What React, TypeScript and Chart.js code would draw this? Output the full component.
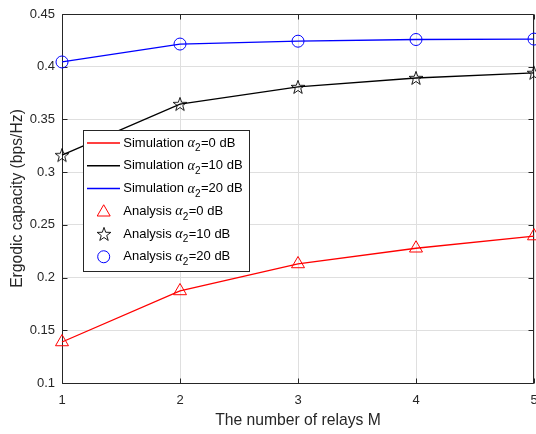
import React, { useEffect, useRef } from "react";
import { Chart, registerables } from "chart.js";
Chart.register(...registerables);

const relays = [1, 2, 3, 4, 5];
const sim0 = [0.1389, 0.1873, 0.2129, 0.2278, 0.2394];
const sim10 = [0.3162, 0.3646, 0.3808, 0.3893, 0.3942];
const sim20 = [0.4045, 0.4215, 0.4242, 0.4258, 0.4262];
const ana0 = [0.1389, 0.1873, 0.2129, 0.2278, 0.2394];
const ana10 = [0.3162, 0.3646, 0.3808, 0.3893, 0.3942];
const ana20 = [0.4045, 0.4215, 0.4242, 0.4258, 0.4262];
const xTicks = [1, 2, 3, 4, 5];
const yTicks = [0.1, 0.15, 0.2, 0.25, 0.3, 0.35, 0.4, 0.45];
const legendLabels = [
  { kind: "line", pre: "Simulation ", post: "=0 dB", color: "#ff0000" },
  { kind: "line", pre: "Simulation ", post: "=10 dB", color: "#000000" },
  { kind: "line", pre: "Simulation ", post: "=20 dB", color: "#0000ff" },
  { kind: "triangle", pre: "Analysis ", post: "=0 dB", color: "#ff0000" },
  { kind: "star", pre: "Analysis ", post: "=10 dB", color: "#000000" },
  { kind: "circle", pre: "Analysis ", post: "=20 dB", color: "#0000ff" },
];

const AXIS = "#262626";
const FONT = "'Liberation Sans', Arial, Helvetica, sans-serif";

function makeStar(): HTMLCanvasElement {
  const c = document.createElement("canvas");
  c.width = 18;
  c.height = 18;
  const ctx = c.getContext("2d")!;
  const R = 7.2;
  const r = R * 0.4;
  ctx.beginPath();
  for (let i = 0; i < 10; i++) {
    const rad = i % 2 === 0 ? R : r;
    const a = -Math.PI / 2 + (i * Math.PI) / 5;
    const x = 9 + rad * Math.cos(a);
    const y = 9.6 + rad * Math.sin(a);
    if (i === 0) ctx.moveTo(x, y);
    else ctx.lineTo(x, y);
  }
  ctx.closePath();
  ctx.strokeStyle = "#000000";
  ctx.lineWidth = 0.9;
  ctx.stroke();
  return c;
}

function drawTriangle(ctx: CanvasRenderingContext2D, x: number, y: number, radius: number) {
  let rad = 0;
  ctx.beginPath();
  for (let i = 0; i < 3; i++) {
    const px = x + Math.sin(rad) * radius;
    const py = y - Math.cos(rad) * radius;
    if (i === 0) ctx.moveTo(px, py);
    else ctx.lineTo(px, py);
    rad += (2 * Math.PI) / 3;
  }
  ctx.closePath();
  ctx.stroke();
}

export default function App() {
  const ref = useRef<HTMLCanvasElement>(null);
  useEffect(() => {
    const star = makeStar();
    const boxPlugin = {
      id: "box",
      beforeDatasetsDraw(chart: any) {
        const { ctx, chartArea } = chart;
        const xs = chart.scales.x;
        const ys = chart.scales.y;
        const l = Math.round(chartArea.left) + 0.5;
        const r = Math.round(chartArea.right) - 0.5;
        const t = Math.round(chartArea.top) + 0.5;
        const b = Math.round(chartArea.bottom) + 0.5;
        ctx.save();
        ctx.strokeStyle = AXIS;
        ctx.lineWidth = 1;
        ctx.beginPath();
        ctx.rect(l, t, r - l, b - t);
        const tl = 5;
        for (const v of xTicks) {
          const px = Math.round(xs.getPixelForValue(v)) + 0.5;
          ctx.moveTo(px, b);
          ctx.lineTo(px, b - tl);
          ctx.moveTo(px, t);
          ctx.lineTo(px, t + tl);
        }
        for (const v of yTicks) {
          const py = Math.round(ys.getPixelForValue(v)) + 0.5;
          ctx.moveTo(l, py);
          ctx.lineTo(l + tl, py);
          ctx.moveTo(r, py);
          ctx.lineTo(r - tl, py);
        }
        ctx.stroke();
        ctx.restore();
      },
    };
    const legendPlugin = {
      id: "matlabLegend",
      afterDraw(chart: any) {
        const { ctx } = chart;
        const bx = 83.5, by = 130.5, bw = 166, bh = 141;
        ctx.save();
        ctx.fillStyle = "#ffffff";
        ctx.fillRect(bx, by, bw, bh);
        ctx.strokeStyle = AXIS;
        ctx.lineWidth = 1;
        ctx.strokeRect(bx, by, bw, bh);
        legendLabels.forEach((item, i) => {
          const cy = 143 + i * 22.75;
          const mx = 103.7;
          ctx.strokeStyle = item.color;
          ctx.lineWidth = 1.3;
          if (item.kind === "line") {
            ctx.beginPath();
            ctx.moveTo(87, cy);
            ctx.lineTo(120, cy);
            ctx.stroke();
          } else if (item.kind === "triangle") {
            ctx.lineWidth = 1;
            drawTriangle(ctx, mx, cy + 1, 7.5);
          } else if (item.kind === "circle") {
            ctx.lineWidth = 1;
            ctx.beginPath();
            ctx.arc(mx, cy, 6, 0, Math.PI * 2);
            ctx.stroke();
          } else if (item.kind === "star") {
            ctx.drawImage(star, Math.round(mx - 9), Math.round(cy - 9));
          }
          let x = 123.3;
          ctx.fillStyle = "#000000";
          ctx.textBaseline = "middle";
          ctx.textAlign = "left";
          ctx.font = `13px ${FONT}`;
          ctx.fillText(item.pre, x, cy);
          x += ctx.measureText(item.pre).width;
          ctx.font = `italic 14px 'Liberation Serif', 'DejaVu Serif', serif`;
          ctx.fillText("α", x, cy + 0.5);
          x += ctx.measureText("α").width;
          ctx.font = `10px ${FONT}`;
          ctx.fillText("2", x, cy + 5.5);
          x += ctx.measureText("2").width + 0.5;
          ctx.font = `13px ${FONT}`;
          ctx.fillText(item.post, x, cy);
        });
        ctx.restore();
      },
    };

    const chart = new Chart(ref.current!, {
      type: "line",
      data: {
        datasets: [
          { label: "Analysis α2=0 dB", data: relays.map((x, i) => ({ x, y: ana0[i] })), showLine: false, pointStyle: "triangle", pointRadius: 7.5, pointBorderColor: "#ff0000", pointBackgroundColor: "rgba(0,0,0,0)", pointBorderWidth: 1, borderColor: "#ff0000", clip: false } as any,
          { label: "Analysis α2=10 dB", data: relays.map((x, i) => ({ x, y: ana10[i] })), showLine: false, pointStyle: star, pointRadius: 7, borderColor: "#000000", clip: false } as any,
          { label: "Analysis α2=20 dB", data: relays.map((x, i) => ({ x, y: ana20[i] })), showLine: false, pointStyle: "circle", pointRadius: 6, pointBorderColor: "#0000ff", pointBackgroundColor: "rgba(0,0,0,0)", pointBorderWidth: 1, borderColor: "#0000ff", clip: false } as any,
          { label: "Simulation α2=0 dB", data: relays.map((x, i) => ({ x, y: sim0[i] })), borderColor: "#ff0000", borderWidth: 1.3, pointRadius: 0, tension: 0, clip: false } as any,
          { label: "Simulation α2=10 dB", data: relays.map((x, i) => ({ x, y: sim10[i] })), borderColor: "#000000", borderWidth: 1.3, pointRadius: 0, tension: 0, clip: false } as any,
          { label: "Simulation α2=20 dB", data: relays.map((x, i) => ({ x, y: sim20[i] })), borderColor: "#0000ff", borderWidth: 1.3, pointRadius: 0, tension: 0, clip: false } as any,
        ],
      },
      options: {
        responsive: false,
        animation: false,
        events: [],
        layout: { autoPadding: false, padding: { top: 14, right: 2, left: 0, bottom: 0 } },
        plugins: { legend: { display: false }, tooltip: { enabled: false } },
        scales: {
          x: {
            type: "linear",
            min: 1,
            max: 5,
            afterFit: (s: any) => { s.height = 51; s.paddingLeft = 0; s.paddingRight = 0; },
            afterBuildTicks: (s: any) => { s.ticks = xTicks.map((v) => ({ value: v })); },
            ticks: { padding: 10, color: AXIS, font: { family: FONT, size: 13 }, callback: (v: any) => String(v) },
            grid: { color: "#dfdfdf", drawTicks: false },
            border: { display: false },
            title: { display: true, text: "The number of relays M", color: AXIS, font: { family: FONT, size: 15.7 }, padding: { top: 0, bottom: 3.5 } },
          },
          y: {
            type: "linear",
            min: 0.1,
            max: 0.45,
            afterFit: (s: any) => { s.width = 62; s.paddingTop = 0; s.paddingBottom = 0; },
            afterBuildTicks: (s: any) => { s.ticks = yTicks.map((v) => ({ value: v })); },
            ticks: { padding: 7, color: AXIS, font: { family: FONT, size: 13 }, callback: (v: any) => String(Number(Number(v).toFixed(2))) },
            grid: { color: "#dfdfdf", drawTicks: false },
            border: { display: false },
            title: { display: true, text: "Ergodic capacity (bps/Hz)", color: AXIS, font: { family: FONT, size: 15.7 }, padding: { top: 8.5, bottom: 0 } },
          },
        },
      },
      plugins: [boxPlugin, legendPlugin],
    } as any);
    return () => chart.destroy();
  }, []);
  return (
    <div style={{ position: "absolute", left: 0, top: 0, width: 536, height: 434, background: "#fff" }}>
      <canvas ref={ref} width={536} height={434} style={{ display: "block" }} />
    </div>
  );
}
